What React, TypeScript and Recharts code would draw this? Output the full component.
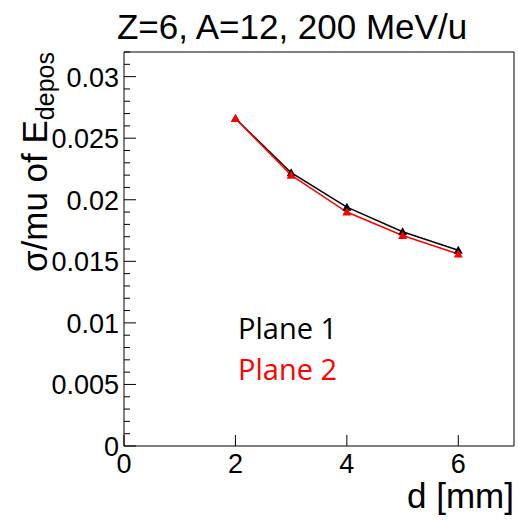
import React from "react";
import {
  LineChart,
  Line,
  XAxis,
  YAxis,
  ReferenceLine,
  Customized,
} from "recharts";

const thickness = [2, 3, 4, 5, 6];
const plane1 = [0.0266, 0.0222, 0.0194, 0.0174, 0.0159];
const plane2 = [0.0266, 0.022, 0.019, 0.0171, 0.0156];

const xTicks = [0, 2, 4, 6];
const yTicks = Array.from({ length: 33 }, (_, i) => i / 1000);

const data = thickness.map((d, i) => ({ d, plane1: plane1[i], plane2: plane2[i] }));

const SANS = "'Liberation Sans', Arial, Helvetica, sans-serif";

function Triangle(props: any) {
  const { cx, cy, fill, index } = props;
  if (cx == null || cy == null) return null;
  return (
    <polygon
      key={index}
      points={`${cx},${cy - 4.5} ${cx - 4.5},${cy + 3.5} ${cx + 4.5},${cy + 3.5}`}
      fill={fill}
    />
  );
}

function YTick(props: any) {
  const { x, y, payload } = props;
  const v = payload.value;
  const milli = Math.round(v * 1000);
  const major = milli % 5 === 0;
  return (
    <g>
      <line x1={x} y1={y} x2={x + (major ? 12 : 6)} y2={y} stroke="#000" strokeWidth={1} />
      {major && (
        <text x={x - 5} y={y + 10} textAnchor="end" fontSize={27} fontFamily={SANS} fill="#000">
          {String(+(milli / 1000).toFixed(3))}
        </text>
      )}
    </g>
  );
}

function XTick(props: any) {
  const { x, y, payload } = props;
  return (
    <g>
      <line x1={x} y1={y} x2={x} y2={y - 11} stroke="#000" strokeWidth={1} />
      <text x={x} y={y + 27} textAnchor="middle" fontSize={27} fontFamily={SANS} fill="#000">
        {payload.value}
      </text>
    </g>
  );
}

function Labels() {
  return (
    <g>
      <text x={292} y={39} textAnchor="middle" fontSize={35} fontFamily={SANS} fill="#000">
        Z=6, A=12, 200 MeV/u
      </text>
      <text
        x={47}
        y={52}
        transform="rotate(-90 47 52)"
        textAnchor="end"
        fontSize={35}
        fontFamily={SANS}
        fill="#000"
      >
        σ/mu of E
        <tspan fontSize={25} dy={7}>depos</tspan>
      </text>
      <text x={514} y={508} textAnchor="end" fontSize={35} fontFamily={SANS} fill="#000">
        d [mm]
      </text>
      <text x={238} y={339} fontSize={29} fontFamily="'Open Sans', sans-serif" fill="#000">
        Plane 1
      </text>
      <text x={238} y={380} fontSize={29} fontFamily="'Open Sans', sans-serif" fill="#ff0000">
        Plane 2
      </text>
    </g>
  );
}

export default function App() {
  return (
    <div style={{ position: "absolute", left: 0, top: 0, background: "#fff" }}>
      <LineChart width={518} height={523} data={data} margin={{ top: 52, right: 4, bottom: 0, left: 0 }}>
        <XAxis
          dataKey="d"
          type="number"
          domain={[0, 7]}
          ticks={xTicks}
          height={77}
          tickSize={0}
          tickMargin={0}
          tickLine={false}
          axisLine={{ stroke: "#000" }}
          tick={<XTick />}
          interval={0}
        />
        <YAxis
          type="number"
          domain={[0, 0.032]}
          ticks={yTicks}
          width={124}
          tickSize={0}
          tickMargin={0}
          tickLine={false}
          axisLine={{ stroke: "#000" }}
          tick={<YTick />}
          interval={0}
          allowDataOverflow
        />
        <ReferenceLine y={0.032} stroke="#000" />
        <ReferenceLine x={7} stroke="#000" />
        <Line
          dataKey="plane1"
          stroke="#000"
          strokeWidth={1.5}
          fill="#000"
          dot={<Triangle fill="#000" />}
          isAnimationActive={false}
        />
        <Line
          dataKey="plane2"
          stroke="#ff0000"
          strokeWidth={1.5}
          fill="#ff0000"
          dot={<Triangle fill="#ff0000" />}
          isAnimationActive={false}
        />
        <Customized component={<Labels />} />
      </LineChart>
    </div>
  );
}
